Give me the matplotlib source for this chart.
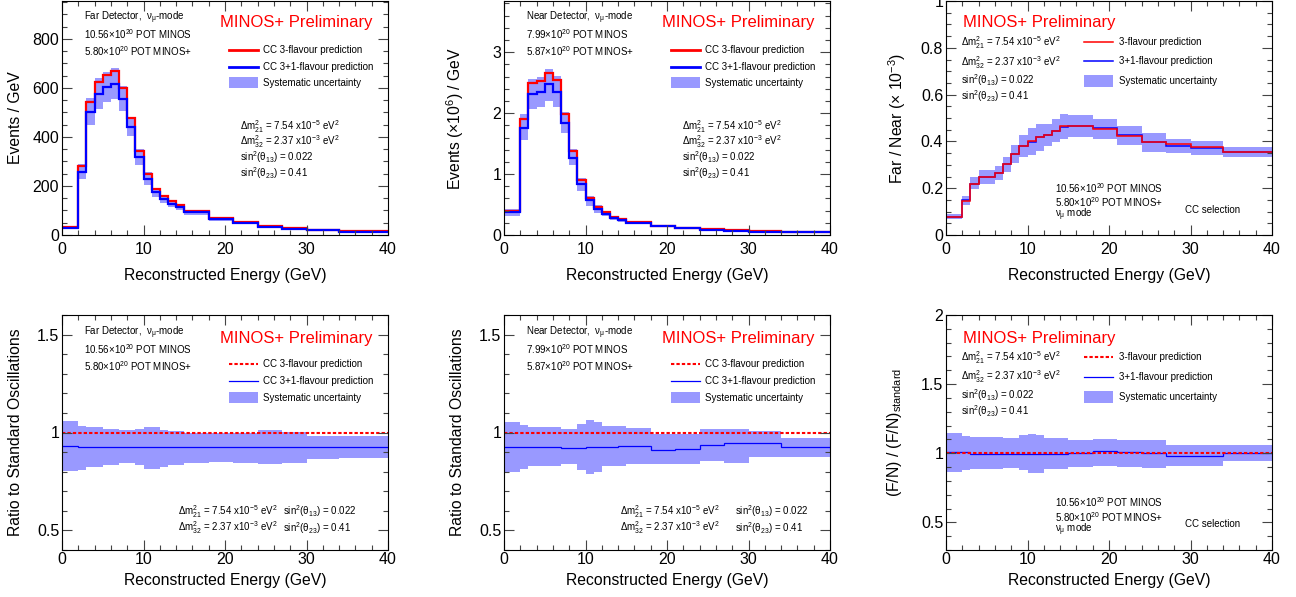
import numpy as np
import matplotlib.pyplot as plt
from matplotlib.ticker import MultipleLocator, FuncFormatter

plt.rcParams['font.family'] = ['Liberation Sans', 'DejaVu Sans']
plt.rcParams['mathtext.fontset'] = 'custom'
plt.rcParams['mathtext.rm'] = 'Liberation Sans'
plt.rcParams['mathtext.it'] = 'Liberation Sans:italic'
plt.rcParams['mathtext.default'] = 'regular'

# bin edges (GeV), shared by every histogram
edges = [0, 2, 3, 4, 5, 6, 7, 8, 9, 10, 11, 12, 13, 14, 15, 18, 21, 24, 27, 30, 34, 40]

# Far detector, events / GeV
fd_3flav = [32, 280, 543, 624, 652, 668, 601, 476, 344, 249, 188, 158, 137, 121, 98, 69, 52, 36, 27, 20, 15]
fd_4flav = [30, 257, 502, 575, 603, 616, 555, 441, 317, 229, 176, 146, 128, 114, 93, 65, 49, 33, 25, 19, 14]
# Far detector, ratio to 3-flavour
fd_ratio = [0.931, 0.926, 0.926, 0.926, 0.926, 0.926, 0.926, 0.926, 0.926, 0.926, 0.926,
            0.926, 0.926, 0.926, 0.926, 0.926, 0.926, 0.926, 0.926, 0.926, 0.926]
fd_band_hi = [1.057, 1.034, 1.026, 1.026, 1.02, 1.02, 1.015, 1.015, 1.02, 1.03, 1.03,
              1.015, 1.01, 1.01, 1.0, 1.0, 1.0, 1.014, 1.005, 0.983, 0.98]
fd_band_lo = [0.804, 0.81, 0.825, 0.825, 0.833, 0.833, 0.845, 0.845, 0.835, 0.816, 0.816,
              0.825, 0.835, 0.835, 0.842, 0.847, 0.842, 0.837, 0.842, 0.866, 0.868]

# Near detector, events (x10^6) / GeV
nd_3flav = [0.40, 1.91, 2.50, 2.53, 2.66, 2.54, 1.99, 1.38, 0.90, 0.61, 0.46, 0.37, 0.30, 0.26,
            0.22, 0.15, 0.12, 0.093, 0.076, 0.06, 0.044]
nd_4flav = [0.37, 1.76, 2.31, 2.34, 2.47, 2.34, 1.84, 1.27, 0.84, 0.57, 0.43, 0.35, 0.28, 0.245,
            0.20, 0.14, 0.11, 0.087, 0.071, 0.055, 0.042]
nd_ratio = [0.926, 0.926, 0.926, 0.926, 0.926, 0.926, 0.921, 0.921, 0.921, 0.926, 0.926,
            0.926, 0.926, 0.931, 0.931, 0.912, 0.916, 0.935, 0.945, 0.945, 0.926]
nd_band_hi = [1.052, 1.036, 1.026, 1.026, 1.026, 1.026, 1.017, 1.017, 1.045, 1.062, 1.053,
              1.031, 1.031, 1.031, 1.022, 0.993, 0.993, 1.02, 1.017, 1.009, 0.972]
nd_band_lo = [0.796, 0.813, 0.828, 0.828, 0.828, 0.828, 0.838, 0.838, 0.808, 0.787, 0.80,
              0.83, 0.83, 0.83, 0.838, 0.838, 0.838, 0.854, 0.845, 0.873, 0.876]

# Far / Near (x10^-3)
fn_3flav = [0.077, 0.147, 0.22, 0.247, 0.247, 0.265, 0.302, 0.348, 0.379, 0.40, 0.418, 0.427,
            0.446, 0.464, 0.466, 0.451, 0.425, 0.398, 0.387, 0.378, 0.355]
fn_ratio = [1.007, 1.007, 0.998, 0.998, 0.998, 0.998, 0.998, 0.998, 0.998, 0.998, 0.998,
            0.998, 0.998, 0.993, 1.0, 1.015, 1.007, 1.0, 0.978, 0.978, 1.0]
fn_band_hi = [1.146, 1.125, 1.12, 1.12, 1.12, 1.12, 1.107, 1.107, 1.13, 1.14, 1.133,
              1.11, 1.11, 1.11, 1.097, 1.10, 1.097, 1.097, 1.058, 1.058, 1.06]
fn_band_lo = [0.864, 0.879, 0.888, 0.888, 0.888, 0.888, 0.89, 0.89, 0.879, 0.857, 0.857,
              0.888, 0.888, 0.888, 0.903, 0.908, 0.903, 0.893, 0.908, 0.91, 0.942]

std_ratio = [1.0] * 21  # 3-flavour relative to itself

RED = '#ff0000'
BLUE = '#0000ff'
BAND = '#9999ff'
DOT = (0, (1.6, 1.0))

small = 7
params = [r'$\Delta$m$^{2}_{21}$ = 7.54 x10$^{-5}$ eV$^{2}$',
          r'$\Delta$m$^{2}_{32}$ = 2.37 x10$^{-3}$ eV$^{2}$',
          r'sin$^{2}$($\theta_{13}$) = 0.022',
          r'sin$^{2}$($\theta_{23}$) = 0.41']

fig = plt.figure(figsize=(12.96, 5.97), dpi=100)

W, H = 326 / 1296, 234 / 597
cols = [62 / 1296, 504 / 1296, 946 / 1296]
top_y = 1 - 235 / 597
bot_y = 1 - 550 / 597


def setup(ax, ylim, major, minor, ylabel, row, lab_x=-0.12):
    ax.set_xlim(0, 40)
    ax.set_ylim(*ylim)
    ax.xaxis.set_major_locator(MultipleLocator(10))
    ax.xaxis.set_minor_locator(MultipleLocator(2))
    ax.yaxis.set_major_locator(MultipleLocator(major))
    ax.yaxis.set_minor_locator(MultipleLocator(minor))
    ax.yaxis.set_major_formatter(FuncFormatter(lambda v, p: '%g' % round(v, 6)))
    ax.tick_params(which='both', direction='in', top=True, right=True,
                   color='#444444', width=0.8, labelsize=11.5)
    ax.tick_params(which='major', length=7)
    ax.tick_params(which='minor', length=3.5)
    ax.tick_params(axis='x', pad=5 if row == 0 else 1.5)
    ax.tick_params(axis='y', pad=2)
    for s in ax.spines.values():
        s.set_linewidth(0.8)
    ax.set_xlabel('Reconstructed Energy (GeV)', fontsize=11.3)
    ax.set_ylabel(ylabel, fontsize=11.3)
    ax.xaxis.set_label_coords(0.5, -0.141 if row == 0 else -0.098)
    ax.yaxis.set_label_coords(lab_x, 0.5)


def legend(ax, x0, x1, xt, ys, labels, styles, box_h):
    for y, lab, st in zip(ys, labels, styles):
        if st == 'band':
            ax.add_patch(plt.Rectangle((x0, y - box_h / 2), x1 - x0, box_h,
                                       transform=ax.transAxes, color=BAND, lw=0))
        else:
            ax.plot([x0, x1], [y, y], transform=ax.transAxes, **st)
        ax.text(xt, y, lab, transform=ax.transAxes, fontsize=small, va='center')


def band(ax, ref, lo, hi):
    ax.stairs(np.array(ref) * np.array(hi), edges, baseline=np.array(ref) * np.array(lo),
              fill=True, color=BAND, lw=0)


# ---------- top left: far detector spectrum ----------
ax = fig.add_axes([cols[0], top_y, W, H])
band(ax, fd_3flav, fd_band_lo, fd_band_hi)
ax.stairs(fd_3flav, edges, baseline=None, color=RED, lw=1.6)
ax.stairs(fd_4flav, edges, baseline=None, color=BLUE, lw=1.6)
setup(ax, (0, 955), 200, 50, 'Events / GeV', 0)

# ---------- top middle: near detector spectrum ----------
ax2 = fig.add_axes([cols[1], top_y, W, H])
band(ax2, nd_3flav, nd_band_lo, nd_band_hi)
ax2.stairs(nd_3flav, edges, baseline=None, color=RED, lw=1.6)
ax2.stairs(nd_4flav, edges, baseline=None, color=BLUE, lw=1.6)
setup(ax2, (0, 3.84), 1, 0.2, r'Events ($\times$10$^{6}$) / GeV', 0, lab_x=-0.118)

for a, det, pot1, pot2 in [(ax, 'Far', '10.56', '5.80'), (ax2, 'Near', '7.99', '5.87')]:
    a.text(0.0675, 0.927, det + r' Detector,  $\nu_{\mu}$-mode', transform=a.transAxes,
           fontsize=small, va='center')
    a.text(0.0675, 0.859, pot1 + r'$\times$10$^{20}$ POT MINOS', transform=a.transAxes,
           fontsize=small, va='center')
    a.text(0.0675, 0.786, pot2 + r'$\times$10$^{20}$ POT MINOS+', transform=a.transAxes,
           fontsize=small, va='center')
    a.text(0.485, 0.906, 'MINOS+ Preliminary', color=RED, transform=a.transAxes,
           fontsize=12, va='center')
    legend(a, 0.512, 0.601, 0.617, [0.791, 0.718, 0.650],
           ['CC 3-flavour prediction', 'CC 3+1-flavour prediction', 'Systematic uncertainty'],
           [dict(color=RED, lw=2), dict(color=BLUE, lw=2), 'band'], 0.047)
    for i, t in enumerate(params):
        a.text(0.546, [0.465, 0.400, 0.333, 0.265][i], t, transform=a.transAxes,
               fontsize=small, va='center')

# ---------- top right: far / near ----------
ax3 = fig.add_axes([cols[2], top_y, W, H])
band(ax3, fn_3flav, fn_band_lo, fn_band_hi)
ax3.stairs(np.array(fn_3flav) * np.array(fn_ratio), edges, baseline=None, color=BLUE, lw=1.1)
ax3.stairs(fn_3flav, edges, baseline=None, color=RED, lw=1.1)
setup(ax3, (0, 1.0), 0.2, 0.05, r'Far / Near ($\times$ 10$^{-3}$)', 0, lab_x=-0.118)

# ---------- bottom left: far ratio ----------
bx = fig.add_axes([cols[0], bot_y, W, 235 / 597])
band(bx, std_ratio, fd_band_lo, fd_band_hi)
bx.stairs(std_ratio, edges, baseline=None, color=RED, lw=1.5, linestyle=DOT)
bx.stairs(fd_ratio, edges, baseline=None, color=BLUE, lw=0.9)
setup(bx, (0.4, 1.6), 0.5, 0.1, 'Ratio to Standard Oscillations', 1)

# ---------- bottom middle: near ratio ----------
bx2 = fig.add_axes([cols[1], bot_y, W, 235 / 597])
band(bx2, std_ratio, nd_band_lo, nd_band_hi)
bx2.stairs(std_ratio, edges, baseline=None, color=RED, lw=1.5, linestyle=DOT)
bx2.stairs(nd_ratio, edges, baseline=None, color=BLUE, lw=0.9)
setup(bx2, (0.4, 1.6), 0.5, 0.1, 'Ratio to Standard Oscillations', 1)

for a, det, pot1, pot2, c2 in [(bx, 'Far', '10.56', '5.80', 0.678),
                               (bx2, 'Near', '7.99', '5.87', 0.709)]:
    a.text(0.0675, 0.923, det + r' Detector,  $\nu_{\mu}$-mode', transform=a.transAxes,
           fontsize=small, va='center')
    a.text(0.0675, 0.855, pot1 + r'$\times$10$^{20}$ POT MINOS', transform=a.transAxes,
           fontsize=small, va='center')
    a.text(0.0675, 0.783, pot2 + r'$\times$10$^{20}$ POT MINOS+', transform=a.transAxes,
           fontsize=small, va='center')
    a.text(0.485, 0.902, 'MINOS+ Preliminary', color=RED, transform=a.transAxes,
           fontsize=12, va='center')
    legend(a, 0.512, 0.601, 0.617, [0.791, 0.719, 0.647],
           ['CC 3-flavour prediction', 'CC 3+1-flavour prediction', 'Systematic uncertainty'],
           [dict(color=RED, lw=1.5, linestyle=DOT), dict(color=BLUE, lw=0.9), 'band'], 0.047)
    a.text(0.357, 0.165, params[0], transform=a.transAxes, fontsize=small, va='center')
    a.text(0.357, 0.094, params[1], transform=a.transAxes, fontsize=small, va='center')
    a.text(c2, 0.165, params[2], transform=a.transAxes, fontsize=small, va='center')
    a.text(c2, 0.094, params[3], transform=a.transAxes, fontsize=small, va='center')

# ---------- bottom right: double ratio ----------
bx3 = fig.add_axes([cols[2], bot_y, W, 235 / 597])
band(bx3, std_ratio, fn_band_lo, fn_band_hi)
bx3.stairs(fn_ratio, edges, baseline=None, color=BLUE, lw=0.9)
bx3.stairs(std_ratio, edges, baseline=None, color=RED, lw=1.5, linestyle=DOT)
setup(bx3, (0.3, 2.0), 0.5, 0.1, r'(F/N) / (F/N)$_{standard}$', 1, lab_x=-0.128)

for a, yl, yp, ylg, yb, ycc, sty in [
        (ax3, 0.906, [0.823, 0.735, 0.662, 0.594], [0.825, 0.744, 0.658],
         [0.20, 0.141, 0.085], 0.107,
         [dict(color=RED, lw=1.1), dict(color=BLUE, lw=1.1), 'band']),
        (bx3, 0.902, [0.82, 0.736, 0.66, 0.591], [0.821, 0.736, 0.651],
         [0.204, 0.14, 0.085], 0.111,
         [dict(color=RED, lw=1.5, linestyle=DOT), dict(color=BLUE, lw=0.9), 'band'])]:
    a.text(0.053, yl, 'MINOS+ Preliminary', color=RED, transform=a.transAxes,
           fontsize=12, va='center')
    for i, t in enumerate(params):
        a.text(0.046, yp[i], t, transform=a.transAxes, fontsize=small, va='center')
    legend(a, 0.423, 0.512, 0.531, ylg,
           ['3-flavour prediction', '3+1-flavour prediction', 'Systematic uncertainty'],
           sty, 0.055)
    a.text(0.334, yb[0], r'10.56$\times$10$^{20}$ POT MINOS', transform=a.transAxes,
           fontsize=small, va='center')
    a.text(0.334, yb[1], r'5.80$\times$10$^{20}$ POT MINOS+', transform=a.transAxes,
           fontsize=small, va='center')
    a.text(0.334, yb[2], r'$\nu_{\mu}$ mode', transform=a.transAxes,
           fontsize=small, va='center')
    a.text(0.733, ycc, 'CC selection', transform=a.transAxes, fontsize=small, va='center')

fig.savefig('out.png', dpi=100)
